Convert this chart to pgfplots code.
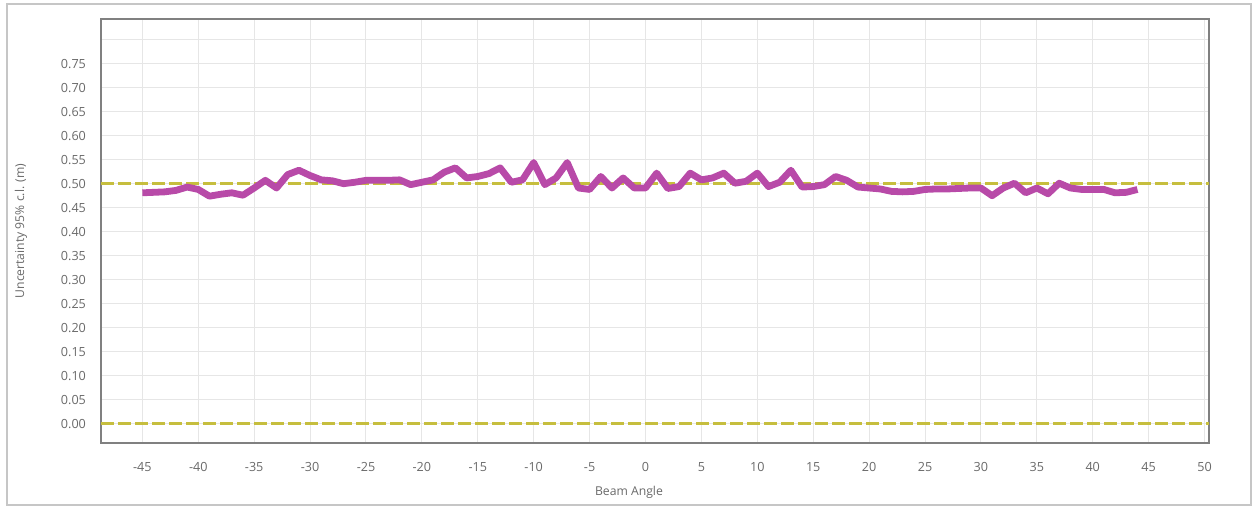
\documentclass[border=0pt]{standalone}
\usepackage{fontspec}
\setmainfont{Open Sans}
\usepackage{pgfplots}
\pgfplotsset{compat=1.18}
\definecolor{linemag}{RGB}{184,74,168}
\definecolor{dashol}{RGB}{198,190,62}
\definecolor{txtgray}{RGB}{105,105,105}
\definecolor{gridgray}{RGB}{230,230,230}
\definecolor{framegray}{RGB}{128,128,128}
\begin{document}
\begin{tikzpicture}
\useasboundingbox (-50.5pt,-32.5pt) rectangle (575.5pt,221.5pt);
\draw[color=gray!45, line width=1pt] (-47pt,-31pt) rectangle (575pt,219.5pt);
\begin{axis}[
  scale only axis,
  width=554pt, height=212pt,
  xmin=-48.7, xmax=50.4,
  ymin=-0.04, ymax=0.843,
  xtick={-45,-40,...,50},
  ytick={0,0.05,...,0.80},
  yticklabels={0.00,0.05,0.10,0.15,0.20,0.25,0.30,0.35,0.40,0.45,0.50,0.55,0.60,0.65,0.70,0.75,},
  major tick length=0pt,
  grid=major,
  major grid style={color=gridgray, line width=0.5pt},
  axis line style={color=framegray, line width=1pt},
  tick label style={font=\fontsize{6.3}{7}\selectfont, color=txtgray},
  /pgf/number format/assume math mode=true,
  xticklabel style={yshift=-6pt},
  yticklabel style={xshift=-4pt},
  xlabel={Beam Angle},
  ylabel={Uncertainty 95\% c.l. (m)},
  label style={font=\fontsize{6.1}{7}\selectfont, color=txtgray},
  xlabel style={at={(axis description cs:0.4765,-0.1156)}, anchor=center},
  ylabel style={at={(axis description cs:-0.0722,0.5)}, anchor=center},
]
\addplot[dashol, line width=1.5pt, dash pattern=on 6.5pt off 2pt, forget plot] coordinates {(-48.7,0.5) (50.4,0.5)};
\addplot[dashol, line width=1.5pt, dash pattern=on 6.5pt off 2pt, forget plot] coordinates {(-48.7,0) (50.4,0)};
\addplot[linemag, line width=3.4pt, line join=round] coordinates {
(-45,0.481) (-44,0.482) (-43,0.483) (-42,0.486) (-41,0.493) (-40,0.488)
(-39,0.474) (-38,0.478) (-37,0.481) (-36,0.476) (-35,0.491) (-34,0.507)
(-33,0.491) (-32,0.519) (-31,0.528) (-30,0.517) (-29,0.508) (-28,0.506)
(-27,0.500) (-26,0.503) (-25,0.507) (-24,0.507) (-23,0.507) (-22,0.508)
(-21,0.498) (-20,0.503) (-19,0.508) (-18,0.524) (-17,0.533) (-16,0.512)
(-15,0.515) (-14,0.521) (-13,0.533) (-12,0.503) (-11,0.508) (-10,0.544)
(-9,0.498) (-8,0.512) (-7,0.544) (-6,0.491) (-5,0.488) (-4,0.515)
(-3,0.491) (-2,0.512) (-1,0.491) (0,0.491) (1,0.522) (2,0.490)
(3,0.494) (4,0.522) (5,0.508) (6,0.512) (7,0.522) (8,0.501)
(9,0.505) (10,0.522) (11,0.494) (12,0.503) (13,0.528) (14,0.493)
(15,0.494) (16,0.498) (17,0.515) (18,0.507) (19,0.493) (20,0.491)
(21,0.489) (22,0.484) (23,0.483) (24,0.484) (25,0.488) (26,0.489)
(27,0.489) (28,0.490) (29,0.491) (30,0.491) (31,0.475) (32,0.491)
(33,0.501) (34,0.481) (35,0.491) (36,0.479) (37,0.501) (38,0.491)
(39,0.488) (40,0.488) (41,0.488) (42,0.481) (43,0.482) (44,0.488)
};
\end{axis}
\end{tikzpicture}
\end{document}
